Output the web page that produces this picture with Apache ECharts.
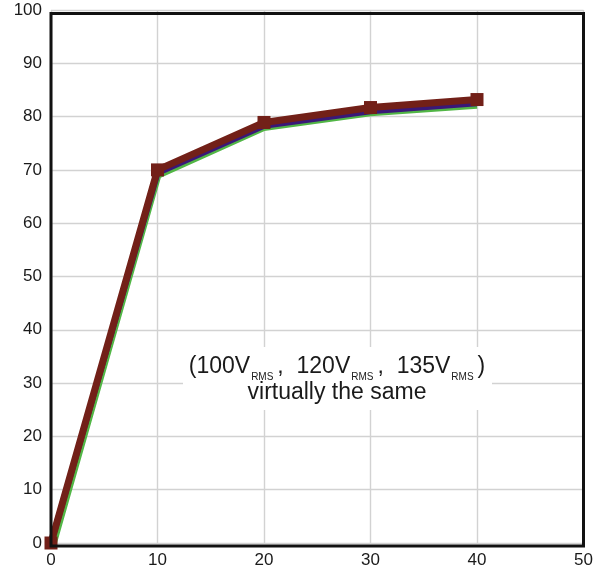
<!DOCTYPE html>
<html>
<head>
<meta charset="utf-8">
<script src="https://cdn.jsdelivr.net/npm/echarts@6/dist/echarts.min.js"></script>
<style>
html,body{margin:0;padding:0;background:#fff;}
#chart{width:603px;height:573px;}
</style>
</head>
<body>
<div id="chart"></div>
<script>
var xValues = [0, 10, 20, 30, 40];
var greenX = [0.3, 10.1, 20, 30, 40];
var greenValues = [0, 68.9, 77.8, 80.6, 82.0];
var blueValues = [0, 69.4, 78.3, 81.0, 82.5];
var brownValues = [0, 70.0, 78.9, 81.7, 83.2];
var xTicks = [0, 10, 20, 30, 40, 50];
var yTicks = [0, 10, 20, 30, 40, 50, 60, 70, 80, 90, 100];

function pairs(xs, ys) { return xs.map(function (x, i) { return [x, ys[i]]; }); }

var FONT = 'Liberation Sans, Arial, Helvetica, sans-serif';
var chart = echarts.init(document.getElementById('chart'), null, {renderer: 'canvas'});
var labelFont = {fontFamily: FONT, fontSize: 17, color: '#1a1a1a'};
chart.setOption({
  animation: false,
  backgroundColor: '#fff',
  grid: {left: 51, right: 19.5, top: 10, bottom: 30, containLabel: false},
  xAxis: {
    type: 'value', min: xTicks[0], max: xTicks[xTicks.length - 1], interval: 10,
    axisLine: {show: false}, axisTick: {show: false},
    axisLabel: Object.assign({margin: 9}, labelFont),
    splitLine: {show: true, lineStyle: {color: '#d2d2d2', width: 1.4}}
  },
  yAxis: {
    type: 'value', min: yTicks[0], max: yTicks[yTicks.length - 1], interval: 10,
    axisLine: {show: false}, axisTick: {show: false},
    axisLabel: Object.assign({margin: 9}, labelFont),
    splitLine: {show: true, lineStyle: {color: '#d2d2d2', width: 1.4}}
  },
  series: [
    {type: 'line', data: pairs(greenX, greenValues), symbol: 'none',
     lineStyle: {color: '#52b646', width: 5.5}, z: 3},
    {type: 'line', data: pairs(xValues, blueValues), symbol: 'none',
     lineStyle: {color: '#3a1878', width: 6}, z: 4},
    {type: 'line', data: pairs(xValues, brownValues), symbol: 'rect', symbolSize: 13,
     itemStyle: {color: '#722018'}, lineStyle: {color: '#722018', width: 7}, z: 5}
  ],
  graphic: [
    {type: 'rect', shape: {x: 51, y: 13.5, width: 532.5, height: 532.5},
     style: {fill: 'none', stroke: '#111', lineWidth: 3}, z: 10, silent: true},
    {type: 'rect', shape: {x: 183, y: 347, width: 309, height: 63},
     style: {fill: '#fff'}, z: 1, silent: true},
    {type: 'text', x: 337, y: 367, z: 20,
     style: {
       text: '{m|(100V}{s|RMS}{m|,  120V}{s|RMS}{m|,  135V}{s|RMS}{m|)}',
       align: 'center', verticalAlign: 'middle',
       rich: {
         m: {fontFamily: FONT, fontSize: 23, fill: '#1a1a1a', lineHeight: 30, verticalAlign: 'middle'},
         s: {fontFamily: FONT, fontSize: 10, fill: '#1a1a1a', lineHeight: 10, verticalAlign: 'bottom', padding: [0, 4, 0, 1]}
       }
     }},
    {type: 'text', x: 337, y: 393, z: 20,
     style: {text: 'virtually the same', align: 'center', verticalAlign: 'middle',
       fontFamily: FONT, fontSize: 23, fill: '#1a1a1a'}}
  ]
});
</script>
</body>
</html>
